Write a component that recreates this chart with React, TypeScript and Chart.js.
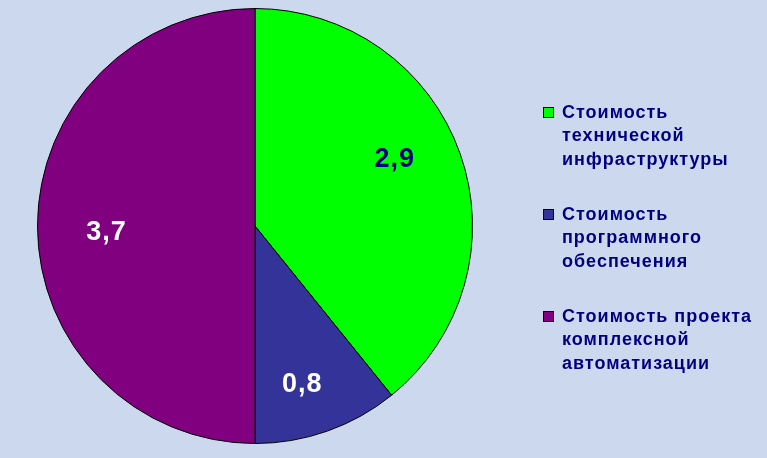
import React, { useEffect, useRef } from "react";
import { Chart, registerables } from "chart.js";

Chart.register(...registerables);

const categories: string[][] = [
  ["Стоимость", "технической", "инфраструктуры"],
  ["Стоимость", "программного", "обеспечения"],
  ["Стоимость проекта", "комплексной", "автоматизации"],
];
const values: number[] = [2.9, 0.8, 3.7];
const colors: string[] = ["#00FF00", "#333399", "#800080"];
const labelColors: string[] = ["#000080", "#FFFFFF", "#FFFFFF"];

const BG = "#CCD8EE";
const TEXT = "#000080";
const FONT_FAMILY = "'Liberation Sans', Arial, sans-serif";

// fine nudges of the value labels (pixels), matching the original placement
const labelNudge: [number, number][] = [
  [-8, -14],
  [-5, 11],
  [8, 7],
];

const valueLabelPlugin = {
  id: "valueLabels",
  afterDatasetsDraw(chart: any) {
    const ctx = chart.ctx;
    const meta = chart.getDatasetMeta(0);
    ctx.save();
    ctx.font = `bold 27px ${FONT_FAMILY}`;
    ctx.textAlign = "center";
    ctx.textBaseline = "middle";
    try {
      (ctx as any).letterSpacing = "1px";
    } catch (e) {}
    meta.data.forEach((arc: any, i: number) => {
      const { x, y, startAngle, endAngle, outerRadius } = arc.getProps(
        ["x", "y", "startAngle", "endAngle", "outerRadius"],
        true
      );
      const mid = (startAngle + endAngle) / 2;
      const r = outerRadius * 0.72;
      ctx.fillStyle = labelColors[i];
      ctx.fillText(
        String(values[i]).replace(".", ","),
        x + Math.cos(mid) * r + labelNudge[i][0],
        y + Math.sin(mid) * r + labelNudge[i][1]
      );
    });
    ctx.restore();
  },
};

const legendPlugin = {
  id: "customLegend",
  afterDraw(chart: any) {
    const ctx = chart.ctx;
    const left = chart.chartArea.right + 70;
    const firstY = 113;
    const itemGap = 102;
    const lineH = 23.5;
    ctx.save();
    ctx.font = `bold 18px ${FONT_FAMILY}`;
    ctx.textBaseline = "middle";
    ctx.textAlign = "left";
    try {
      (ctx as any).letterSpacing = "1px";
    } catch (e) {}
    categories.forEach((lines, i) => {
      const y0 = firstY + i * itemGap;
      ctx.fillStyle = colors[i];
      ctx.fillRect(left, y0 - 6, 11, 11);
      ctx.strokeStyle = "#000000";
      ctx.lineWidth = 1;
      ctx.strokeRect(left + 0.5, y0 - 5.5, 10, 10);
      ctx.fillStyle = TEXT;
      lines.forEach((line, j) => {
        ctx.fillText(line, left + 19, y0 + j * lineH);
      });
    });
    ctx.restore();
  },
};

export default function App() {
  const canvasRef = useRef<HTMLCanvasElement | null>(null);

  useEffect(() => {
    document.body.style.margin = "0";
    const canvas = canvasRef.current;
    if (!canvas) return;
    const chart = new Chart(canvas, {
      type: "pie",
      data: {
        labels: categories.map((l) => l.join(" ")),
        datasets: [
          {
            data: values,
            backgroundColor: colors,
            borderColor: "#000000",
            borderWidth: 1,
          },
        ],
      },
      options: {
        animation: false,
        responsive: false,
        rotation: 0,
        layout: { padding: { left: 37, top: 8, right: 294, bottom: 14 } },
        plugins: {
          legend: { display: false },
          tooltip: { enabled: false },
        },
      },
      plugins: [valueLabelPlugin, legendPlugin],
    });
    return () => chart.destroy();
  }, []);

  return (
    <div
      style={{
        position: "fixed",
        left: 0,
        top: 0,
        width: 767,
        height: 458,
        background: BG,
      }}
    >
      <canvas ref={canvasRef} width={767} height={458} />
    </div>
  );
}
